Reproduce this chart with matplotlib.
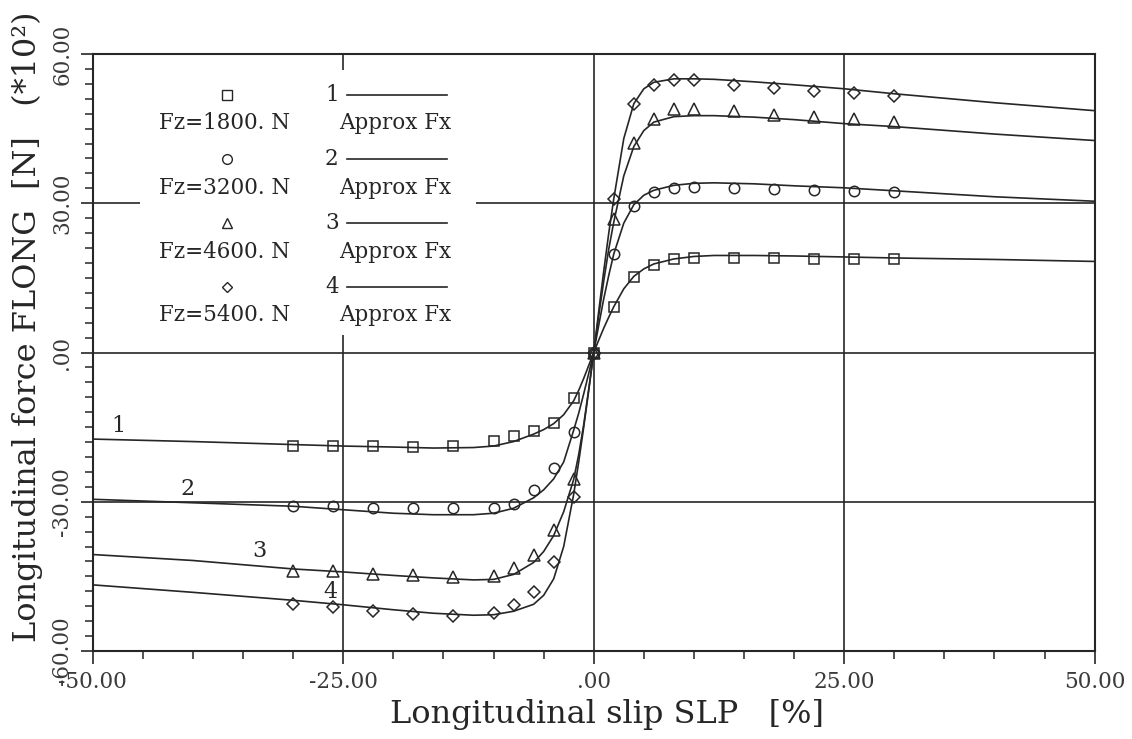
import matplotlib
matplotlib.use('Agg')
import matplotlib.pyplot as plt
from matplotlib.patches import Rectangle
from matplotlib.ticker import MultipleLocator, FixedLocator, FixedFormatter

# Date (forta in *10^2 N, alunecare in %)
SLIP_MEAS = [-30, -26, -22, -18, -14, -10, -8, -6, -4, -2, 0,
             2, 4, 6, 8, 10, 14, 18, 22, 26, 30]

FX_1800 = [-18.8, -18.8, -18.8, -18.9, -18.8, -17.8, -16.8, -15.8, -14.2, -9.1, 0,
           9.2, 15.2, 17.6, 18.7, 19.0, 19.0, 19.0, 18.8, 18.8, 18.7]
FX_3200 = [-30.9, -30.9, -31.2, -31.2, -31.2, -31.2, -30.4, -27.7, -23.2, -15.9, 0,
           19.8, 29.5, 32.2, 33.0, 33.3, 33.1, 32.8, 32.7, 32.5, 32.2]
FX_4600 = [-44.0, -44.0, -44.6, -44.8, -45.2, -44.9, -43.3, -40.6, -35.6, -25.5, 0,
           26.8, 42.2, 46.9, 49.0, 49.0, 48.6, 47.8, 47.3, 46.9, 46.3]
FX_5400 = [-50.6, -51.2, -51.9, -52.5, -53.0, -52.4, -50.7, -48.2, -42.2, -29.1, 0,
           30.9, 50.0, 53.8, 54.8, 54.8, 53.8, 53.1, 52.6, 52.1, 51.5]

# Curbele aproximate (citite punct cu punct)
SLIP_APPROX = [-50, -40, -30, -25, -20, -16, -12, -10, -8, -6, -5, -4, -3, -2, -1.5, -1, -0.5, 0,
               0.5, 1, 1.5, 2, 3, 4, 5, 6, 8, 10, 12, 16, 20, 25, 30, 40, 50]

APPROX_1 = [-17.4, -17.9, -18.5, -18.8, -19.0, -19.2, -19.1, -18.8, -17.9, -16.4, -15.5, -14.3,
            -12.5, -9.7, -7.6, -5.2, -2.6, 0,
            2.5, 4.9, 7.1, 9.2, 12.8, 15.3, 16.8, 17.8, 18.8, 19.3, 19.5, 19.5, 19.4, 19.2,
            19.0, 18.7, 18.3]
APPROX_2 = [-29.5, -30.2, -30.9, -31.6, -32.3, -32.6, -32.6, -32.3, -31.3, -29.2, -27.6, -25.4,
            -22.0, -15.6, -12.2, -8.3, -4.2, 0,
            5.5, 10.8, 15.5, 19.8, 26.0, 29.7, 31.6, 32.6, 33.6, 34.0, 34.1, 33.9, 33.5, 33.1,
            32.5, 31.3, 30.4]
APPROX_3 = [-40.6, -41.8, -43.5, -44.1, -44.8, -45.3, -45.7, -45.6, -44.6, -42.2, -40.0, -36.8,
            -32.0, -25.5, -20.5, -14.5, -7.4, 0,
            7.4, 14.4, 20.8, 26.2, 35.5, 41.4, 44.6, 46.3, 47.4, 47.6, 47.6, 47.3, 46.8, 46.0,
            45.4, 43.9, 42.6]
APPROX_4 = [-46.7, -48.2, -49.8, -50.7, -51.7, -52.4, -52.8, -52.7, -52.0, -50.6, -48.8, -45.5,
            -39.0, -28.5, -22.0, -15.0, -7.6, 0,
            8.3, 16.4, 24.0, 30.9, 43.0, 50.0, 53.0, 54.3, 55.0, 55.0, 54.9, 54.4, 53.8, 53.0,
            52.0, 50.2, 48.6]

LOADS = ['Fz=1800. N', 'Fz=3200. N', 'Fz=4600. N', 'Fz=5400. N']
MARKERS = ['s', 'o', '^', 'D']
MARKER_SIZES = [7.5, 7.5, 8, 6]
CURVE_IDS = ['1', '2', '3', '4']
ID_POS = [(-47.4, -14.8), (-40.5, -27.4), (-33.4, -39.8), (-26.3, -48.2)]

XTICKS = [-50, -25, 0, 25, 50]
XTICK_LABELS = ['-50.00', '-25.00', '.00', '25.00', '50.00']
YTICKS = [-60, -30, 0, 30, 60]
YTICK_LABELS = ['-60.00', '-30.00', '.00', '30.00', '60.00']

INK = '#262626'
FONT = 'DejaVu Serif'
plt.rcParams['font.family'] = FONT

fig = plt.figure(figsize=(11.32, 7.39), dpi=100)
ax = fig.add_axes([0.082, 0.119, 0.885, 0.808])

measured = [FX_1800, FX_3200, FX_4600, FX_5400]
approx = [APPROX_1, APPROX_2, APPROX_3, APPROX_4]

for i in range(4):
    ax.plot(SLIP_APPROX, approx[i], color=INK, lw=1.2, zorder=3)
    ax.plot(SLIP_MEAS, measured[i], linestyle='none', marker=MARKERS[i],
            markersize=MARKER_SIZES[i], markerfacecolor='none',
            markeredgecolor=INK, markeredgewidth=1.1, zorder=4)
    ax.text(ID_POS[i][0], ID_POS[i][1], CURVE_IDS[i], fontsize=16,
            color=INK, ha='center', va='center', zorder=5)

# linii de grila
for yv in [30, 0, -30]:
    ax.axhline(yv, color=INK, lw=1.2, zorder=1)
for xv in [-25, 0, 25]:
    ax.axvline(xv, color=INK, lw=1.2, zorder=1)

# fundal alb pentru legenda
ax.add_patch(Rectangle((0.047, 0.529), 0.335, 0.444, transform=ax.transAxes,
                       facecolor='white', edgecolor='none', zorder=2))

row_marker_y = [0.9313, 0.8241, 0.7169, 0.6097]
row_text_y = [0.8844, 0.7755, 0.6683, 0.5628]
for i in range(4):
    ax.plot([0.1337], [row_marker_y[i]], transform=ax.transAxes, linestyle='none',
            marker=MARKERS[i], markersize=MARKER_SIZES[i] - 0.5, markerfacecolor='none',
            markeredgecolor=INK, markeredgewidth=1.0, zorder=5, clip_on=False)
    ax.text(0.1317, row_text_y[i], LOADS[i], transform=ax.transAxes, fontsize=15.5,
            color=INK, ha='center', va='center', zorder=5)
    ax.text(0.2385, row_marker_y[i], CURVE_IDS[i], transform=ax.transAxes, fontsize=15.5,
            color=INK, ha='center', va='center', zorder=5)
    ax.plot([0.2535, 0.3533], [row_marker_y[i]] * 2, transform=ax.transAxes,
            color=INK, lw=1.2, zorder=5)
    ax.text(0.3014, row_text_y[i], 'Approx Fx', transform=ax.transAxes, fontsize=15.5,
            color=INK, ha='center', va='center', zorder=5)

ax.set_xlim(-50, 50)
ax.set_ylim(-60, 60)

ax.xaxis.set_major_locator(FixedLocator(XTICKS))
ax.xaxis.set_major_formatter(FixedFormatter(XTICK_LABELS))
ax.yaxis.set_major_locator(FixedLocator(YTICKS))
ax.yaxis.set_major_formatter(FixedFormatter(YTICK_LABELS))
ax.xaxis.set_minor_locator(MultipleLocator(5))
ax.yaxis.set_minor_locator(MultipleLocator(3))

ax.tick_params(which='major', direction='out', length=9, width=1.2, color=INK,
               labelsize=15.5, labelcolor='#3a3a3a', pad=5)
ax.tick_params(which='minor', direction='out', length=6, width=1.1, color=INK)
for lbl in ax.get_yticklabels():
    lbl.set_rotation(90)
    lbl.set_va('center')

for sp in ax.spines.values():
    sp.set_color(INK)
    sp.set_linewidth(1.5)

ax.set_xlabel('Longitudinal slip SLP   [%]', fontsize=23, color=INK)
ax.set_ylabel('Longitudinal force FLONG  [N]   (*10\u00b2)', fontsize=23, color=INK)
ax.xaxis.set_label_coords(0.513, -0.08)
ax.yaxis.set_label_coords(-0.05, 0.543)

fig.savefig('out.png', dpi=100, facecolor='white')
